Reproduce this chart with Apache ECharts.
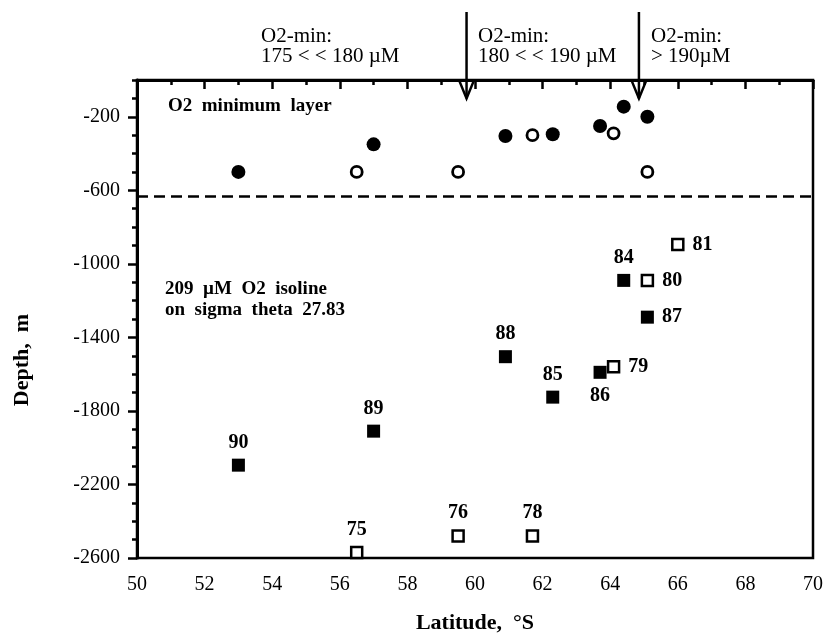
<!DOCTYPE html>
<html><head><meta charset="utf-8">
<script src="https://cdn.jsdelivr.net/npm/echarts@6/dist/echarts.min.js"></script>
<style>html,body{margin:0;padding:0;background:#fff}#c{width:825px;height:635px}</style>
</head><body><div id="c"></div>
<script>
// O2 minimum layer depth (circles)
const minLayerFilledLat   = [53.0, 57.0, 60.9, 62.3, 63.7, 64.4, 65.1];
const minLayerFilledDepth = [-500, -350, -305, -295, -250, -145, -200];
const minLayerOpenLat     = [56.5, 59.5, 61.7, 64.1, 65.1];
const minLayerOpenDepth   = [-500, -500, -300, -290, -500];
// 209 uM O2 isoline depth (squares), station numbers
const isoFilledStation = ['90', '89', '88', '85', '86', '84', '87'];
const isoFilledLat     = [53.0, 57.0, 60.9, 62.3, 63.7, 64.4, 65.1];
const isoFilledDepth   = [-2095, -1910, -1505, -1725, -1590, -1090, -1290];
const isoOpenStation   = ['75', '76', '78', '79', '80', '81'];
const isoOpenLat       = [56.5, 59.5, 61.7, 64.1, 65.1, 66.0];
const isoOpenDepth     = [-2570, -2480, -2480, -1560, -1090, -895];
// boundary line and O2-min class arrows
const dividerDepth   = -630;
const arrowLat       = [59.75, 64.85];
const arrowTipDepth  = [-100, -100];
// axes
const xTickLabels = [50, 52, 54, 56, 58, 60, 62, 64, 66, 68, 70];
const yTickLabels = [-2600, -2200, -1800, -1400, -1000, -600, -200];
const yMinorStep = 100;

// label placement (style)
const filledLabelPos = ['top', 'top', 'top', 'top', 'bottom', 'top', 'right'];
const openLabelPos   = ['top', 'top', 'top', 'right', 'right', 'right'];

const FONT = "'Liberation Serif', 'Times New Roman', serif";
const yMinorValues = [];
for (let v = yTickLabels[0]; v <= 0; v += yMinorStep) yMinorValues.push(v);

const labelStyle = pos => ({
  show: true, position: pos, distance: pos === 'top' ? 6 : (pos === 'bottom' ? 7 : 8),
  formatter: p => p.data.name, color: '#000', opacity: 1, fontFamily: FONT,
  fontWeight: 'bold', fontSize: 20
});

const chart = echarts.init(document.getElementById('c'), null, {renderer: 'canvas'});
chart.setOption({
  backgroundColor: '#fff',
  animation: false,
  grid: {left: 137, right: 12, top: 80, bottom: 77, show: true, outerBoundsMode: 'none', containLabel: false,
         borderColor: '#000', borderWidth: 2.5, backgroundColor: 'transparent'},
  xAxis: {
    type: 'value', min: xTickLabels[0], max: xTickLabels[xTickLabels.length - 1], interval: 2,
    axisLine: {lineStyle: {color: '#000', width: 3}},
    axisTick: {length: 9, lineStyle: {color: '#000', width: 2.5}},
    minorTick: {show: true, splitNumber: 2, length: 5, lineStyle: {color: '#000', width: 2.5}},
    splitLine: {show: false},
    axisLabel: {color: '#000', fontFamily: FONT, fontSize: 20, margin: 17, formatter: v => String(v)},
    name: 'Latitude,  °S', nameLocation: 'middle', nameGap: 54,
    nameTextStyle: {color: '#000', fontFamily: FONT, fontWeight: 'bold', fontSize: 22}
  },
  yAxis: [{
    type: 'value', min: yTickLabels[0], max: 0,
    axisLine: {lineStyle: {color: '#000', width: 3}},
    axisTick: {length: 9, customValues: yTickLabels, lineStyle: {color: '#000', width: 2.5}},
    splitLine: {show: false},
    axisLabel: {customValues: yTickLabels, color: '#000', fontFamily: FONT, fontSize: 20, margin: 17,
                formatter: v => String(v)}
  }, {
    type: 'value', min: yTickLabels[0], max: 0, position: 'left',
    axisLine: {show: false},
    axisTick: {length: 5, customValues: yMinorValues, lineStyle: {color: '#000', width: 2.5}},
    axisLabel: {show: false},
    splitLine: {show: false}
  }],
  graphic: [
    {type: 'text', left: 261, top: 26, style: {text: 'O2-min:\n175 < < 180 µM', font: '21px ' + FONT, lineHeight: 20, fill: '#000'}},
    {type: 'text', left: 478, top: 26, style: {text: 'O2-min:\n180 < < 190 µM', font: '21px ' + FONT, lineHeight: 20, fill: '#000'}},
    {type: 'text', left: 651, top: 26, style: {text: 'O2-min:\n> 190µM', font: '21px ' + FONT, lineHeight: 20, fill: '#000'}},
    {type: 'text', left: 168, top: 97, style: {text: 'O2  minimum  layer', font: 'bold 19px ' + FONT, fill: '#000'}},
    {type: 'text', left: 165, top: 279, style: {text: '209  µM  O2  isoline\non  sigma  theta  27.83', font: 'bold 19px ' + FONT, lineHeight: 21, fill: '#000'}},
    {type: 'text', x: 22, y: 360, rotation: Math.PI / 2,
     style: {text: 'Depth,  m', font: 'bold 22px ' + FONT, fill: '#000', align: 'center', verticalAlign: 'middle'}}
  ],
  series: [
    {
      type: 'scatter', clip: false, symbol: 'circle', symbolSize: 14,
      itemStyle: {color: '#000', opacity: 1},
      data: minLayerFilledLat.map((x, i) => [x, minLayerFilledDepth[i]]),
      markLine: {
        silent: true, symbol: 'none', label: {show: false},
        lineStyle: {color: '#000', width: 2.5, type: [11, 6], opacity: 1},
        data: [{yAxis: dividerDepth}]
      }
    },
    {
      type: 'scatter', clip: false, symbol: 'circle', symbolSize: 11,
      itemStyle: {color: '#fff', borderColor: '#000', borderWidth: 2.8, opacity: 1},
      data: minLayerOpenLat.map((x, i) => [x, minLayerOpenDepth[i]])
    },
    {
      type: 'scatter', clip: false, symbol: 'rect', symbolSize: 13,
      itemStyle: {color: '#000', opacity: 1},
      data: isoFilledLat.map((x, i) => ({name: isoFilledStation[i], value: [x, isoFilledDepth[i]],
        label: labelStyle(filledLabelPos[i])}))
    },
    {
      type: 'scatter', clip: false, symbol: 'rect', symbolSize: 11,
      itemStyle: {color: '#fff', borderColor: '#000', borderWidth: 2.5, opacity: 1},
      data: isoOpenLat.map((x, i) => ({name: isoOpenStation[i], value: [x, isoOpenDepth[i]],
        label: labelStyle(openLabelPos[i])}))
    },
    {
      type: 'custom', clip: false, silent: true,
      data: arrowLat.map((x, i) => [x, arrowTipDepth[i]]),
      renderItem: (params, api) => {
        const tip = api.coord([api.value(0), api.value(1)]);
        return {type: 'group', children: [
          {type: 'line', shape: {x1: tip[0], y1: 12, x2: tip[0], y2: tip[1]},
           style: {stroke: '#000', lineWidth: 2.5}},
          {type: 'polyline', shape: {points: [[tip[0] - 7, tip[1] - 17], [tip[0], tip[1]], [tip[0] + 7, tip[1] - 17]]},
           style: {stroke: '#000', lineWidth: 2.5, fill: null}}
        ]};
      }
    }
  ]
});
</script></body></html>
